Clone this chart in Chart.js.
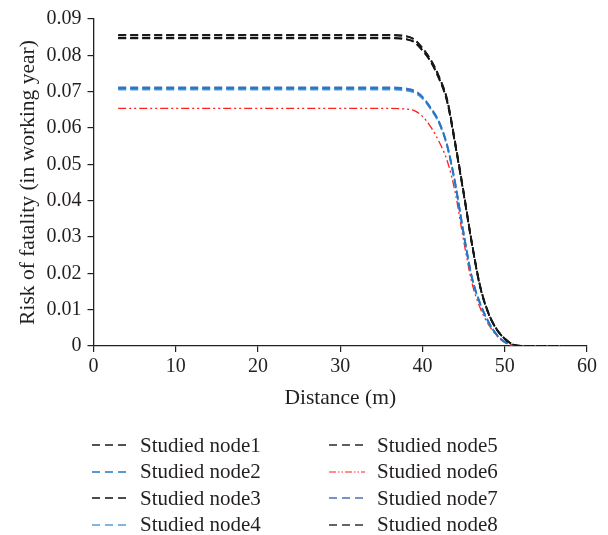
<!DOCTYPE html>
<html>
<head>
<meta charset="utf-8">
<script src="https://cdn.jsdelivr.net/npm/chart.js@4"></script>
<style>
  body { margin: 0; background: #fff; }
  #wrap { position: relative; width: 608px; height: 535px; }
  #legend { position: absolute; left: 0; top: 0; width: 608px; height: 535px; pointer-events: none; }
  .leg { position: absolute; height: 26px; display: flex; align-items: center; font-family: "Liberation Serif", serif; font-size: 21px; color: #231f20; white-space: nowrap; }
  .leg svg { margin-right: 12px; }
</style>
</head>
<body>
<div id="wrap">
  <canvas id="myChart" width="608" height="420"></canvas>
  <div id="legend"></div>
</div>
<script>
// distance (m)
const distance = [3, 10, 20, 30, 36, 38, 39, 40, 41, 42, 43, 44, 45, 46, 47, 48, 49, 50, 51, 52, 57];

// risk of fatality per node
const node1 = [0.0856, 0.0856, 0.0856, 0.0856, 0.0856, 0.0853, 0.0844, 0.0820, 0.0788, 0.0742, 0.0678, 0.0557, 0.0424, 0.0285, 0.0166, 0.0092, 0.0047, 0.0020, 0.0004, 0, 0];
const node2 = [0.0709, 0.0709, 0.0709, 0.0709, 0.0709, 0.0706, 0.0700, 0.0684, 0.0654, 0.0616, 0.0551, 0.0444, 0.0309, 0.0189, 0.0117, 0.0067, 0.0031, 0.0011, 0.0002, 0, 0];
const node3 = [0.0848, 0.0848, 0.0848, 0.0848, 0.0848, 0.0845, 0.0837, 0.0814, 0.0783, 0.0737, 0.0673, 0.0552, 0.0420, 0.0282, 0.0164, 0.0091, 0.0046, 0.0020, 0.0004, 0, 0];
const node4 = [0.0706, 0.0706, 0.0706, 0.0706, 0.0706, 0.0703, 0.0697, 0.0681, 0.0652, 0.0614, 0.0549, 0.0442, 0.0308, 0.0188, 0.0116, 0.0066, 0.0031, 0.0011, 0.0002, 0, 0];
const node5 = [0.0855, 0.0855, 0.0855, 0.0855, 0.0855, 0.0852, 0.0843, 0.0819, 0.0787, 0.0741, 0.0677, 0.0556, 0.0423, 0.0284, 0.0165, 0.0092, 0.0047, 0.0020, 0.0004, 0, 0];
const node6 = [0.0654, 0.0654, 0.0654, 0.0654, 0.0654, 0.0652, 0.0648, 0.0632, 0.0603, 0.0563, 0.0510, 0.0420, 0.0290, 0.0175, 0.0105, 0.0060, 0.0029, 0.0010, 0.0001, 0, 0];
const node7 = [0.0712, 0.0712, 0.0712, 0.0712, 0.0712, 0.0709, 0.0703, 0.0686, 0.0656, 0.0618, 0.0553, 0.0446, 0.0311, 0.0190, 0.0118, 0.0068, 0.0032, 0.0011, 0.0002, 0, 0];
const node8 = [0.0847, 0.0847, 0.0847, 0.0847, 0.0847, 0.0844, 0.0836, 0.0813, 0.0782, 0.0736, 0.0672, 0.0551, 0.0419, 0.0281, 0.0163, 0.0090, 0.0046, 0.0020, 0.0004, 0, 0];

const seriesNames = ['Studied node1', 'Studied node2', 'Studied node3', 'Studied node4',
                     'Studied node5', 'Studied node6', 'Studied node7', 'Studied node8'];
const seriesValues = [node1, node2, node3, node4, node5, node6, node7, node8];

const xTicks = [0, 10, 20, 30, 40, 50, 60];
const yTicks = [0, 0.01, 0.02, 0.03, 0.04, 0.05, 0.06, 0.07, 0.08, 0.09];

// styles
const colors = ['#1a1a1a', '#1f78c8', '#111111', '#5b9bd5', '#2a2a2a', '#ff1f1f', '#4a6fb5', '#333333'];
const dashes = [[8, 4], [8, 4], [8, 4], [8, 4], [8, 4], [8, 3, 2, 3, 2, 3], [8, 4], [8, 4]];
const widths = [1.8, 1.8, 1.8, 1.8, 1.8, 1.3, 1.8, 1.8];

const serif = '"Liberation Serif", "Times New Roman", serif';
const tickFont = { family: serif, size: 20 };
const titleFont = { family: serif, size: 21.5 };

const datasets = seriesNames.map((name, i) => ({
    label: name,
    data: distance.map((d, j) => ({ x: d, y: seriesValues[i][j] })),
    borderColor: colors[i],
    borderDash: dashes[i],
    borderWidth: widths[i],
    pointRadius: 0,
    fill: false,
    cubicInterpolationMode: 'monotone'
}));

const ctx = document.getElementById('myChart');
const riskChart = new Chart(ctx, {
    type: 'line',
    data: { datasets: datasets },
    options: {
        responsive: false,
        animation: false,
        devicePixelRatio: 1,
        layout: { padding: { top: 19, right: 21, left: 0, bottom: 0 } },
        plugins: { legend: { display: false }, tooltip: { enabled: false } },
        scales: {
            x: {
                type: 'linear',
                min: 0, max: 60,
                afterBuildTicks: s => { s.ticks = xTicks.map(v => ({ value: v })); },
                afterFit: s => { s.height = 420 - 346; },
                ticks: { font: tickFont, color: '#231f20', padding: 3, maxRotation: 0 },
                grid: { drawOnChartArea: false, drawTicks: true, tickLength: 6, color: '#231f20', lineWidth: 1.2 },
                border: { color: '#231f20', width: 1.3 },
                title: { display: true, text: 'Distance (m)', font: titleFont, color: '#231f20', padding: { top: 0, bottom: 9 } }
            },
            y: {
                min: 0, max: 0.09,
                afterBuildTicks: s => { s.ticks = yTicks.map(v => ({ value: v })); },
                afterFit: s => { s.width = 93.5; },
                ticks: {
                    font: tickFont, color: '#231f20', padding: 6,
                    callback: v => v === 0 ? '0' : v.toFixed(2)
                },
                grid: { drawOnChartArea: false, drawTicks: true, tickLength: 6, color: '#231f20', lineWidth: 1.2 },
                border: { color: '#231f20', width: 1.3 },
                title: { display: true, text: 'Risk of fatality (in working year)', font: titleFont, color: '#231f20', padding: { top: 15, bottom: 0 } }
            }
        }
    }
});

// legend in two columns below the chart
const legendEl = document.getElementById('legend');
const colX = [92, 329];
const rowY = [445, 471.5, 498, 524.5];
seriesNames.forEach((name, i) => {
    const col = Math.floor(i / 4), row = i % 4;
    const item = document.createElement('div');
    item.className = 'leg';
    item.style.left = colX[col] + 'px';
    item.style.top = (rowY[row] - 13) + 'px';
    item.innerHTML = `<svg width="36" height="10"><line x1="0" y1="5" x2="36" y2="5" stroke="${colors[i]}"
        stroke-width="${widths[i] * 0.8}" stroke-dasharray="${i === 5 ? '7,2,1.5,2,1.5,2' : '8,5'}"/></svg><span>${name}</span>`;
    legendEl.appendChild(item);
});
</script>
</body>
</html>
